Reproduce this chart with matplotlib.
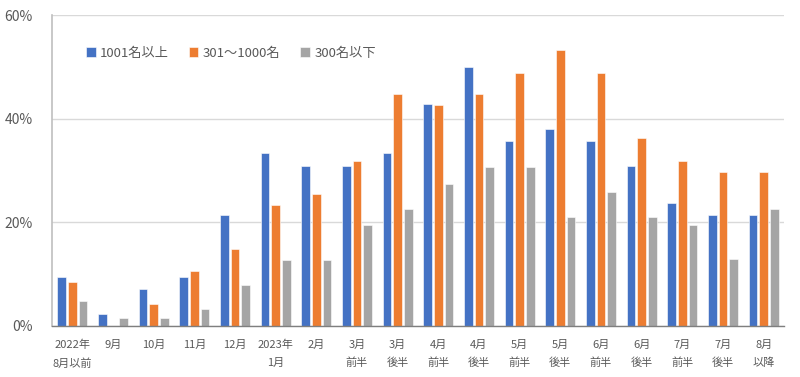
import numpy as np
import matplotlib.pyplot as plt

plt.rcParams["font.family"] = ["Noto Sans CJK JP", "DejaVu Sans"]

## data (percent)
categories = [
	"2022年\n8月以前", "9月", "10月", "11月", "12月", "2023年\n1月", "2月",
	"3月\n前半", "3月\n後半", "4月\n前半", "4月\n後半", "5月\n前半", "5月\n後半",
	"6月\n前半", "6月\n後半", "7月\n前半", "7月\n後半", "8月\n以降",
]
series_names = ["1001名以上", "301～1000名", "300名以下"]
large = [9.4, 2.3, 7.1, 9.4, 21.4, 33.3, 30.9, 30.9, 33.3, 42.9, 50.0, 35.7, 38.1, 35.7, 30.9, 23.8, 21.4, 21.4]
medium = [8.5, 0.0, 4.2, 10.6, 14.9, 23.4, 25.5, 31.9, 44.7, 42.6, 44.7, 48.9, 53.2, 48.9, 36.2, 31.9, 29.8, 29.8]
small = [4.8, 1.6, 1.6, 3.2, 7.9, 12.7, 12.7, 19.4, 22.6, 27.4, 30.6, 30.6, 21.0, 25.8, 21.0, 19.4, 12.9, 22.6]
colors = ["#4472C4", "#ED7D31", "#A5A5A5"]

## plot
fig = plt.figure(
	figsize=(8.0, 3.77),
	dpi=100)
ax = fig.add_axes([0.065, 0.1353, 0.915, 0.8247])

x = np.arange(len(categories))
width = 0.21
step = 0.26
for i, (vals, name, c) in enumerate(zip([large, medium, small], series_names, colors)):
	ax.bar(
		x + (i - 1) * step,
		vals,
		width=width,
		color=c,
		edgecolor="white",
		linewidth=0.4,
		label=name,
		zorder=3)

ax.set_xlim(-0.5, len(categories) - 0.5)
ax.set_ylim(0, 60)
ax.set_yticks([0, 20, 40, 60])
ax.set_yticklabels(["0%", "20%", "40%", "60%"])
ax.set_xticks(x)
ax.set_xticklabels(categories, linespacing=1.9)
ax.tick_params(axis="y", length=0, pad=14, labelsize=10, labelcolor="#595959")
ax.tick_params(axis="x", length=0, pad=10, labelsize=8, labelcolor="#595959")
ax.grid(
	axis="y",
	color="#D9D9D9",
	linewidth=1.0,
	zorder=0)
for s in ["top", "right"]:
	ax.spines[s].set_visible(False)
ax.spines["left"].set_color("#BFBFBF")
ax.spines["left"].set_linewidth(1.2)
ax.spines["bottom"].set_color("#7F7F7F")
ax.spines["bottom"].set_linewidth(1.0)
ax.spines["bottom"].set_zorder(4)

## legend
leg = ax.legend(
	loc="center left",
	bbox_to_anchor=(0.047, 0.878),
	ncol=3,
	frameon=False,
	fontsize=9.5,
	handlelength=0.7,
	handleheight=0.7,
	handletextpad=0.35,
	columnspacing=1.5,
	borderpad=0,
	borderaxespad=0)
for t in leg.get_texts():
	t.set_color("#595959")

fig.savefig("out.png", dpi=100)
plt.close()
